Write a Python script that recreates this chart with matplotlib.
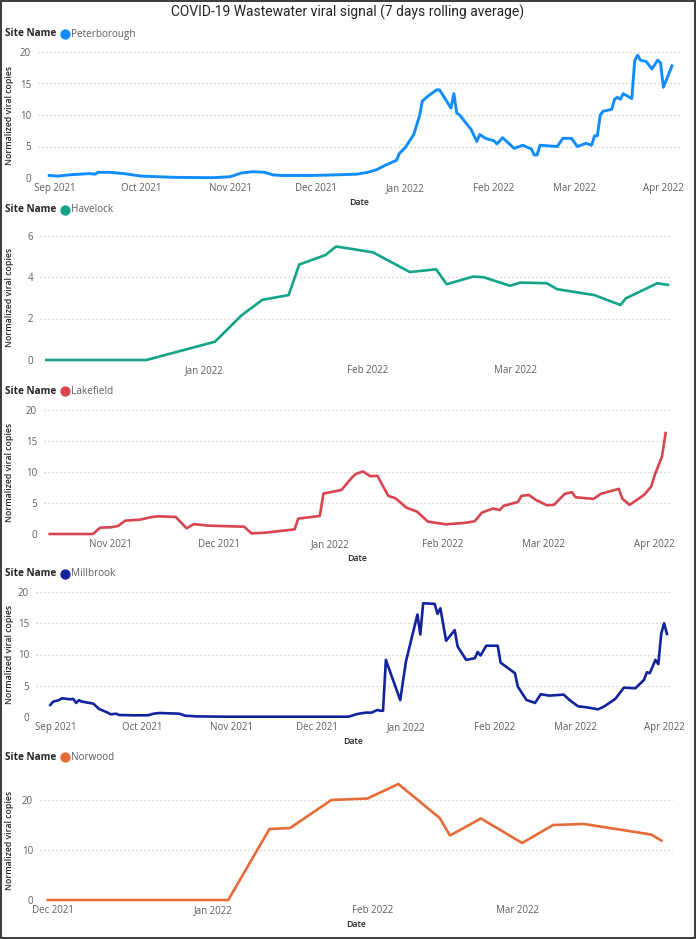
import pandas as pd
import matplotlib
matplotlib.use("Agg")
import matplotlib.pyplot as plt
from matplotlib.lines import Line2D
from matplotlib.patches import Rectangle

plt.rcParams["font.family"] = ["Open Sans", "DejaVu Sans"]

TITLE = "COVID-19 Wastewater viral signal (7 days rolling average)"

# ---- data ----
peterborough_dates = [
    "2021-08-30", "2021-09-02", "2021-09-06", "2021-09-13", "2021-09-15", "2021-09-16",
    "2021-09-20", "2021-09-25", "2021-10-01", "2021-10-07", "2021-10-13", "2021-10-26",
    "2021-11-01", "2021-11-05", "2021-11-09", "2021-11-13", "2021-11-16", "2021-11-19",
    "2021-11-29", "2021-12-08", "2021-12-15", "2021-12-19", "2021-12-22", "2021-12-25",
    "2021-12-29", "2021-12-30", "2022-01-01", "2022-01-04", "2022-01-06", "2022-01-07",
    "2022-01-09", "2022-01-12", "2022-01-13", "2022-01-17", "2022-01-18", "2022-01-19",
    "2022-01-20", "2022-01-24", "2022-01-26", "2022-01-27", "2022-01-29", "2022-02-01",
    "2022-02-02", "2022-02-04", "2022-02-08", "2022-02-11", "2022-02-14", "2022-02-15",
    "2022-02-16", "2022-02-17", "2022-02-23", "2022-02-25", "2022-02-28", "2022-03-02",
    "2022-03-05", "2022-03-07", "2022-03-08", "2022-03-09", "2022-03-10", "2022-03-11",
    "2022-03-14", "2022-03-15", "2022-03-16", "2022-03-17", "2022-03-18", "2022-03-21",
    "2022-03-22", "2022-03-23", "2022-03-24", "2022-03-26", "2022-03-28", "2022-03-30",
    "2022-03-31", "2022-04-01", "2022-04-04",
]
peterborough_values = [
    0.4, 0.3, 0.5, 0.7, 0.6, 0.9,
    0.9, 0.7, 0.3, 0.2, 0.1, 0.05,
    0.2, 0.8, 1.0, 0.9, 0.5, 0.4,
    0.4, 0.5, 0.6, 0.9, 1.3, 2.0,
    2.8, 3.9, 4.8, 6.9, 9.8, 12.2,
    13.0, 14.0, 14.0, 11.1, 13.4, 10.3,
    10.0, 7.7, 5.8, 6.9, 6.3, 5.9,
    5.4, 6.4, 4.7, 5.2, 4.6, 3.65,
    3.65, 5.2, 5.0, 6.3, 6.3, 5.0,
    5.5, 5.2, 6.7, 6.7, 10.0, 10.6,
    10.9, 12.5, 12.8, 12.5, 13.4, 12.6,
    18.6, 19.5, 18.7, 18.5, 17.3, 18.7,
    18.3, 14.4, 17.8,
]

havelock_dates = [
    "2021-12-02", "2021-12-21", "2022-01-03", "2022-01-08", "2022-01-12", "2022-01-17",
    "2022-01-19", "2022-01-24", "2022-01-26", "2022-02-02", "2022-02-09", "2022-02-14",
    "2022-02-16", "2022-02-21", "2022-02-23", "2022-02-28", "2022-03-02", "2022-03-07",
    "2022-03-09", "2022-03-16", "2022-03-21", "2022-03-22", "2022-03-28", "2022-03-30",
]
havelock_values = [
    0.0, 0.0, 0.88, 2.14, 2.9, 3.13,
    4.6, 5.06, 5.47, 5.19, 4.24, 4.37,
    3.65, 4.02, 3.99, 3.58, 3.73, 3.7,
    3.41, 3.13, 2.65, 2.97, 3.7, 3.62,
]

lakefield_dates = [
    "2021-10-15", "2021-10-27", "2021-10-29", "2021-11-01", "2021-11-03", "2021-11-05",
    "2021-11-09", "2021-11-12", "2021-11-14", "2021-11-19", "2021-11-22", "2021-11-24",
    "2021-11-28", "2021-12-07", "2021-12-08", "2021-12-10", "2021-12-14", "2021-12-22",
    "2021-12-23", "2021-12-29", "2021-12-30", "2022-01-04", "2022-01-07", "2022-01-08",
    "2022-01-10", "2022-01-12", "2022-01-14", "2022-01-17", "2022-01-19", "2022-01-22",
    "2022-01-25", "2022-01-28", "2022-02-02", "2022-02-07", "2022-02-10", "2022-02-12",
    "2022-02-15", "2022-02-17", "2022-02-18", "2022-02-22", "2022-02-23", "2022-02-25",
    "2022-02-27", "2022-03-02", "2022-03-04", "2022-03-07", "2022-03-09", "2022-03-10",
    "2022-03-15", "2022-03-17", "2022-03-22", "2022-03-23", "2022-03-25", "2022-03-29",
    "2022-03-31", "2022-04-01", "2022-04-03", "2022-04-04",
]
lakefield_values = [
    0.0, 0.0, 1.02, 1.08, 1.3, 2.16,
    2.3, 2.7, 2.86, 2.75, 0.92, 1.6,
    1.35, 1.19, 1.19, 0.1, 0.22, 0.75,
    2.48, 2.91, 6.52, 7.1, 9.16, 9.7,
    10.08, 9.33, 9.38, 6.15, 5.77, 4.26,
    3.6, 2.0, 1.56, 1.78, 2.05, 3.45,
    4.1, 3.88, 4.53, 5.17, 6.15, 6.3,
    5.5, 4.64, 4.7, 6.47, 6.74, 5.93,
    5.66, 6.47, 7.28, 5.7, 4.69, 6.3,
    7.65, 9.54, 12.5, 16.28,
]

millbrook_dates = [
    "2021-08-30", "2021-08-31", "2021-09-02", "2021-09-03", "2021-09-06", "2021-09-07",
    "2021-09-08", "2021-09-09", "2021-09-10", "2021-09-14", "2021-09-16", "2021-09-19",
    "2021-09-20", "2021-09-22", "2021-09-23", "2021-09-28", "2021-10-03", "2021-10-05",
    "2021-10-07", "2021-10-14", "2021-10-16", "2021-10-20", "2021-10-29", "2021-12-12",
    "2021-12-15", "2021-12-18", "2021-12-20", "2021-12-22", "2021-12-23", "2021-12-24",
    "2021-12-25", "2021-12-30", "2022-01-01", "2022-01-05", "2022-01-06", "2022-01-07",
    "2022-01-11", "2022-01-12", "2022-01-13", "2022-01-15", "2022-01-18", "2022-01-19",
    "2022-01-22", "2022-01-25", "2022-01-26", "2022-01-27", "2022-01-29", "2022-02-02",
    "2022-02-03", "2022-02-08", "2022-02-09", "2022-02-12", "2022-02-15", "2022-02-17",
    "2022-02-20", "2022-02-25", "2022-02-27", "2022-03-02", "2022-03-05", "2022-03-09",
    "2022-03-11", "2022-03-15", "2022-03-18", "2022-03-22", "2022-03-25", "2022-03-26",
    "2022-03-27", "2022-03-29", "2022-03-30", "2022-03-31", "2022-04-01", "2022-04-02",
]
millbrook_values = [
    1.93, 2.46, 2.7, 3.0, 2.83, 2.9,
    2.25, 2.7, 2.46, 2.14, 1.28, 0.7,
    0.43, 0.53, 0.32, 0.27, 0.27, 0.53,
    0.64, 0.53, 0.21, 0.1, 0.05, 0.05,
    0.48, 0.7, 0.7, 1.12, 1.0, 1.0,
    9.14, 2.7, 8.9, 16.4, 13.2, 18.2,
    18.1, 16.5, 17.4, 12.2, 13.9, 11.3,
    9.14, 9.4, 10.4, 9.84, 11.4, 11.4,
    8.7, 7.0, 4.87, 2.73, 2.25, 3.64,
    3.42, 3.58, 2.73, 1.71, 1.55, 1.23,
    1.66, 2.89, 4.7, 4.6, 5.94, 7.17,
    7.0, 9.14, 8.45, 13.3, 15.0, 13.3,
]

norwood_dates = [
    "2021-11-30", "2022-01-04", "2022-01-12", "2022-01-16", "2022-01-24", "2022-01-31",
    "2022-02-06", "2022-02-14", "2022-02-16", "2022-02-22", "2022-03-02", "2022-03-08",
    "2022-03-14", "2022-03-27", "2022-03-29",
]
norwood_values = [
    0.0, 0.0, 14.2, 14.4, 20.0, 20.3,
    23.2, 16.4, 12.9, 16.3, 11.4, 15.0,
    15.2, 13.1, 11.9,
]

sites = ["Peterborough", "Havelock", "Lakefield", "Millbrook", "Norwood"]
site_dates = [peterborough_dates, havelock_dates, lakefield_dates, millbrook_dates, norwood_dates]
site_values = [peterborough_values, havelock_values, lakefield_values, millbrook_values, norwood_values]
site_colors = ["#118DFF", "#13A387", "#D64550", "#12239E", "#E66C37"]

y_ticks = [[0, 5, 10, 15, 20], [0, 2, 4, 6], [0, 5, 10, 15, 20], [0, 5, 10, 15, 20], [0, 10, 20]]
x_tick_months = [
    ["2021-09-01", "2021-10-01", "2021-11-01", "2021-12-01", "2022-01-01", "2022-02-01", "2022-03-01", "2022-04-01"],
    ["2022-01-01", "2022-02-01", "2022-03-01"],
    ["2021-11-01", "2021-12-01", "2022-01-01", "2022-02-01", "2022-03-01", "2022-04-01"],
    ["2021-09-01", "2021-10-01", "2021-11-01", "2021-12-01", "2022-01-01", "2022-02-01", "2022-03-01", "2022-04-01"],
    ["2021-12-01", "2022-01-01", "2022-02-01", "2022-03-01"],
]
show_date_label = [True, False, True, True, True]

# ---- layout (pixels in a 696 x 939 canvas) ----
W, H = 696, 939
# left, right, top, bottom (pixel), y max, x limits, legend row y
panels = [
    (38, 680, 52, 178, 20, ("2021-08-26 02:00", "2022-04-06 19:00"), 34),
    (40, 671, 235.5, 360, 6, ("2021-11-30 19:00", "2022-03-30 14:00"), 210),
    (44, 671, 410, 534, 20, ("2021-10-13 10:00", "2022-04-05 12:00"), 391),
    (36, 671, 592, 717, 20, ("2021-08-25 00:00", "2022-04-03 10:00"), 574),
    (40, 673, 780, 900, 24, ("2021-11-28 12:00", "2022-03-31 06:00"), 757),
]

TXT_DARK = "#252423"
TXT_GREY = "#605E5C"
GRID = "#C8C6C4"

fig = plt.figure(figsize=(W / 100, H / 100), dpi=100)
fig.text(0.5, 1 - 12 / H, TITLE, ha="center", va="center", fontsize=10,
         color=TXT_DARK, family=["Roboto", "DejaVu Sans"])

for i, name in enumerate(sites):
    left, right, top, bottom, ymax, (x0, x1), ly = panels[i]
    ax = fig.add_axes([left / W, 1 - bottom / H, (right - left) / W, (bottom - top) / H])
    dates = pd.to_datetime(site_dates[i])
    lw = 2.1 if i == 0 else 1.9
    ax.plot(dates, site_values[i], color=site_colors[i], linewidth=lw,
            solid_joinstyle="round", clip_on=False, zorder=3)
    ax.set_xlim(pd.Timestamp(x0), pd.Timestamp(x1))
    ax.set_ylim(0, ymax)
    ax.set_yticks(y_ticks[i])
    ax.set_yticklabels([str(v) for v in y_ticks[i]])
    ticks = pd.to_datetime(x_tick_months[i])
    ax.set_xticks(ticks)
    ax.set_xticklabels([t.strftime("%b %Y") for t in ticks])
    for s in ax.spines.values():
        s.set_visible(False)
    ax.grid(axis="y", color=GRID, linestyle=(0, (1, 2.2)), linewidth=0.9)
    ax.set_axisbelow(True)
    ax.tick_params(axis="both", length=0, labelsize=7.0, labelcolor=TXT_GREY)
    ax.tick_params(axis="x", pad=3.5)
    ax.tick_params(axis="y", pad=5)
    if show_date_label[i]:
        ax.set_xlabel("Date", fontsize=6.3, color=TXT_DARK, fontweight="semibold", labelpad=3)

    # y axis title
    fig.text(10 / W, 1 - ((top + bottom) / 2) / H, "Normalized viral copies", rotation=90,
             ha="center", va="center", fontsize=6.3, color=TXT_DARK, fontweight="semibold")

    # legend row
    fig.text(5 / W, 1 - ly / H, "Site Name", ha="left", va="center", fontsize=7.2,
             color=TXT_DARK, fontweight="bold")
    fig.add_artist(Line2D([65 / W], [1 - ly / H], marker="o", markersize=6.4,
                          color=site_colors[i], transform=fig.transFigure))
    fig.text(70.5 / W, 1 - ly / H, name, ha="left", va="center", fontsize=7.2, color=TXT_GREY)

fig.add_artist(Rectangle((0.001, 0.001), 0.998, 0.998, fill=False, edgecolor="#3A3A3A",
                         linewidth=1.4, transform=fig.transFigure))

fig.savefig("out.png", dpi=100)
